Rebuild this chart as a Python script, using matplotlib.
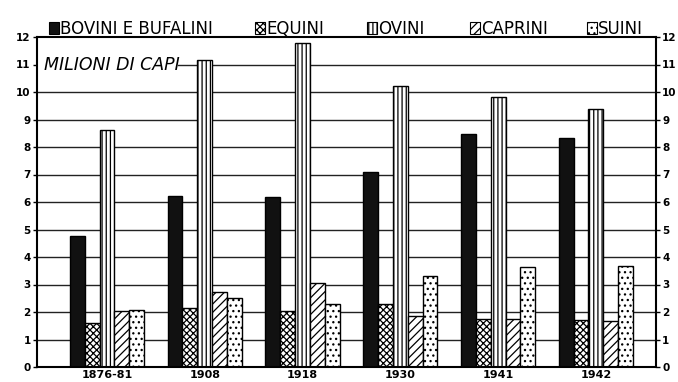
import numpy as np
import matplotlib.pyplot as plt
from matplotlib.patches import Rectangle

# consistenza del bestiame in Italia (milioni di capi)
years = ['1876-81', '1908', '1918', '1930', '1941', '1942']
bovini = [4.78, 6.22, 6.17, 7.08, 8.47, 8.33]
equini = [1.60, 2.16, 2.05, 2.28, 1.74, 1.70]
ovini = [8.62, 11.16, 11.78, 10.22, 9.82, 9.40]
caprini = [2.03, 2.72, 3.07, 1.86, 1.74, 1.67]
suini = [2.06, 2.50, 2.30, 3.30, 3.62, 3.66]

labels = ['BOVINI E BUFALINI', 'EQUINI', 'OVINI', 'CAPRINI', 'SUINI']
series = [bovini, equini, ovini, caprini, suini]
faces = ['#111111', 'white', 'white', 'white', 'white']
hatches = [None, 'xxxxx', '||||', '////', '...']

plt.rcParams['hatch.linewidth'] = 0.9

W, H = 678, 382
fig = plt.figure(figsize=(W / 100, H / 100), dpi=100)
ax = fig.add_axes([37 / W, 15 / H, 619 / W, 330 / H])

x = np.arange(len(years))
w = 0.152
for i, (vals, fc, h) in enumerate(zip(series, faces, hatches)):
    ax.bar(x + (i - 2) * w, vals, width=w, color=fc, hatch=h,
           edgecolor='black', linewidth=1.0, zorder=2)

ax.set_xlim(-0.716, 5.615)
ax.set_ylim(0, 12)

# griglia orizzontale (interrotta dietro la scritta)
for y in range(1, 12):
    ax.axhline(y, xmin=0.228 if y == 11 else 0, color='#222222',
               linewidth=1.0, zorder=1)

ax.text(-0.645, 11, 'MILIONI DI CAPI', style='italic', fontsize=12.5,
        va='center', ha='left', zorder=3)

ax.set_yticks(range(13))
ax.set_yticklabels([str(v) for v in range(13)], fontsize=7.5, fontweight='bold')
ax.tick_params(axis='y', direction='out', length=3, width=1,
               right=True, labelright=True, pad=1.5)
ax.set_xticks(x)
ax.set_xticklabels(years, fontsize=8, fontweight='bold')
ax.tick_params(axis='x', length=0, pad=2)
for s in ax.spines.values():
    s.set_linewidth(1.5)

# legenda in alto
leg_x = [49, 255, 367, 470, 587]
for lx, lab, fc, h in zip(leg_x, labels, faces, hatches):
    fig.add_artist(Rectangle((lx / W, (H - 34) / H), 10 / W, 12 / H,
                             transform=fig.transFigure, facecolor=fc,
                             hatch=h, edgecolor='black', linewidth=0.8))
    fig.text((lx + 11) / W, (H - 34) / H, lab, fontsize=12,
             ha='left', va='baseline')

plt.savefig('out.png', dpi=100)
